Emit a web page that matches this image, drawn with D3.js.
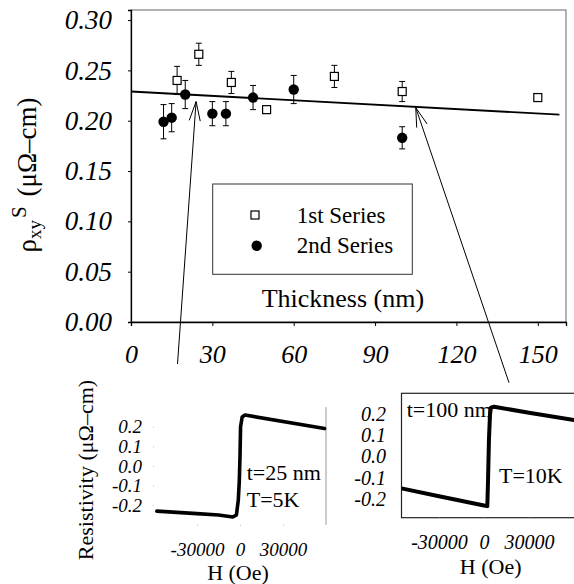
<!DOCTYPE html>
<html>
<head>
<meta charset="utf-8">
<script src="https://d3js.org/d3.v7.min.js"></script>
<style>
  body { margin: 0; background: #fff; }
  text { font-family: "Liberation Serif", "DejaVu Serif", serif; fill: #000; }
</style>
</head>
<body>
<div id="chart"></div>
<script>
// main plot data: Hall resistivity vs film thickness
const thickness1 = [17, 25, 37, 50, 75, 100, 150];
const rho1 = [0.240, 0.266, 0.238, 0.211, 0.244, 0.229, 0.223];
const err1 = [0.014, 0.011, 0.011, 0, 0.011, 0.010, 0];

const thickness2 = [12, 15, 20, 30, 35, 45, 60, 100];
const rho2 = [0.199, 0.203, 0.226, 0.207, 0.207, 0.223, 0.231, 0.183];
const err2 = [0.017, 0.014, 0.014, 0.012, 0.012, 0.012, 0.014, 0.011];

// linear fit line end points
const fitThickness = [0, 158];
const fitRho = [0.229, 0.206];

const mainYTicks = [0, 0.05, 0.10, 0.15, 0.20, 0.25, 0.30];
const mainXTicks = [0, 30, 60, 90, 120, 150];

// inset curves: resistivity vs field
const fieldA = [-58000, -30000, -15000, -5000, -2500, -1200, -500, 0, 400, 1500, 3500, 59000];
const rhoA = [-0.230, -0.243, -0.250, -0.260, -0.250, -0.175, -0.080, 0.050, 0.200, 0.250, 0.260, 0.191];

const fieldB = [-55000, -30000, 0, 2200, 2700, 3300, 4000, 4600, 6700, 30000, 60000];
const rhoB = [-0.151, -0.188, -0.232, -0.235, -0.110, 0.080, 0.200, 0.232, 0.236, 0.208, 0.173];

const insetYTicks = [-0.2, -0.1, 0, 0.1, 0.2];
const insetXTicks = [-30000, 0, 30000];

const width = 574;
const height = 584;
const serif = "'Liberation Serif', 'DejaVu Serif', serif";

const svg = d3.select("#chart")
  .append("svg")
  .attr("width", width)
  .attr("height", height);

/*
  Main plot
*/
const xMain = d3.scaleLinear().domain([0, 160.4]).range([131, 566]);
const yMain = d3.scaleLinear().domain([0, 0.31]).range([322, 10]);

// frame (top and right)
svg.append("rect")
  .attr("x", xMain(0)).attr("y", yMain(0.31))
  .attr("width", xMain(160.4) - xMain(0))
  .attr("height", yMain(0) - yMain(0.31))
  .attr("fill", "none").attr("stroke", "#666").attr("stroke-width", 1);

const yAxisMain = svg.append("g")
  .attr("transform", `translate(${xMain(0)},0)`)
  .call(d3.axisLeft(yMain).tickValues(mainYTicks).tickSize(3).tickPadding(16)
          .tickFormat(d => d.toFixed(2)));
yAxisMain.selectAll("text")
  .attr("font-size", "27px").attr("font-style", "italic").attr("font-family", serif);

const xAxisMain = svg.append("g")
  .attr("transform", `translate(0,${yMain(0)})`)
  .call(d3.axisBottom(xMain).tickValues(mainXTicks).tickSize(4).tickPadding(19)
          .tickFormat(d => String(d)));
xAxisMain.selectAll("text")
  .attr("font-size", "26px").attr("font-style", "italic").attr("font-family", serif);

[yAxisMain, xAxisMain].forEach(g => {
  g.select(".domain").attr("stroke", "#000").attr("stroke-width", 1.3);
  g.selectAll(".tick line").attr("stroke", "#000");
});

// fit line
svg.append("path")
  .datum(d3.zip(fitThickness, fitRho))
  .attr("d", d3.line().x(d => xMain(d[0])).y(d => yMain(d[1])))
  .attr("fill", "none").attr("stroke", "#000").attr("stroke-width", 1.8);

// error bars
function errorBars(xs, ys, es) {
  const g = svg.append("g").attr("stroke", "#000").attr("stroke-width", 1);
  xs.forEach((t, i) => {
    if (!es[i]) return;
    const x = xMain(t);
    const y0 = yMain(ys[i] - es[i]);
    const y1 = yMain(ys[i] + es[i]);
    g.append("line").attr("x1", x).attr("x2", x).attr("y1", y0).attr("y2", y1);
    g.append("line").attr("x1", x - 3).attr("x2", x + 3).attr("y1", y0).attr("y2", y0);
    g.append("line").attr("x1", x - 3).attr("x2", x + 3).attr("y1", y1).attr("y2", y1);
  });
}
errorBars(thickness1, rho1, err1);
errorBars(thickness2, rho2, err2);

// 1st series: open squares
svg.selectAll(".sq")
  .data(d3.zip(thickness1, rho1))
  .enter()
  .append("rect")
    .attr("class", "sq")
    .attr("x", d => xMain(d[0]) - 4)
    .attr("y", d => yMain(d[1]) - 4)
    .attr("width", 8).attr("height", 8)
    .attr("fill", "#fff").attr("stroke", "#000").attr("stroke-width", 1.2);

// 2nd series: filled circles
svg.selectAll(".dot")
  .data(d3.zip(thickness2, rho2))
  .enter()
  .append("circle")
    .attr("class", "dot")
    .attr("cx", d => xMain(d[0]))
    .attr("cy", d => yMain(d[1]))
    .attr("r", 5.2)
    .attr("fill", "#000");

// legend
svg.append("rect")
  .attr("x", 212.7).attr("y", 184).attr("width", 199.6).attr("height", 90.3)
  .attr("fill", "#fff").attr("stroke", "#333").attr("stroke-width", 1);
svg.append("rect")
  .attr("x", 251).attr("y", 211).attr("width", 8).attr("height", 8)
  .attr("fill", "#fff").attr("stroke", "#000").attr("stroke-width", 1.2);
svg.append("circle").attr("cx", 256.7).attr("cy", 245.7).attr("r", 5.2).attr("fill", "#000");
svg.append("text").attr("x", 296.7).attr("y", 223.3).attr("font-size", "23px").text("1st Series");
svg.append("text").attr("x", 296.7).attr("y", 253.3).attr("font-size", "23px").text("2nd Series");

svg.append("text").attr("x", 261.7).attr("y", 306.7).attr("font-size", "26px").text("Thickness (nm)");

// y label with sub/superscripts
const yLab = svg.append("text")
  .attr("transform", "translate(36,175) rotate(-90)")
  .attr("text-anchor", "middle")
  .attr("font-size", "27px");
yLab.append("tspan").text("ρ");
yLab.append("tspan").attr("font-size", "19px").attr("dy", 5).text("xy");
yLab.append("tspan").attr("font-size", "21px").attr("dy", -15).attr("dx", 2).text("S");
yLab.append("tspan").attr("dy", 10).attr("dx", 3).text(" (μΩ–cm)");

// arrows from fit line to insets
function arrow(tipX, tipY, tailX, tailY) {
  svg.append("line")
    .attr("x1", tailX).attr("y1", tailY).attr("x2", tipX).attr("y2", tipY)
    .attr("stroke", "#000").attr("stroke-width", 1);
  const a = Math.atan2(tailY - tipY, tailX - tipX);
  [-0.28, 0.28].forEach(da => {
    svg.append("line")
      .attr("x1", tipX).attr("y1", tipY)
      .attr("x2", tipX + 20 * Math.cos(a + da))
      .attr("y2", tipY + 20 * Math.sin(a + da))
      .attr("stroke", "#000").attr("stroke-width", 1);
  });
}
arrow(xMain(24), yMain(0.219), 177.5, 364);
arrow(xMain(105), yMain(0.213), 509, 382.7);

/*
  Inset A: t=25 nm, T=5K
*/
const xA = d3.scaleLinear().domain([-60000, 60000]).range([154, 326]);
const yA = d3.scaleLinear().domain([-0.3, 0.3]).range([524.8, 407.2]);

svg.append("line")
  .attr("x1", xA(60000)).attr("x2", xA(60000))
  .attr("y1", yA(0.3)).attr("y2", yA(-0.3))
  .attr("stroke", "#999").attr("stroke-width", 1);

const yAxA = svg.append("g")
  .attr("transform", `translate(${xA(-60000)},0)`)
  .call(d3.axisLeft(yA).tickValues(insetYTicks).tickSize(1).tickPadding(11)
          .tickFormat(d => d.toFixed(1)));
const xAxA = svg.append("g")
  .attr("transform", `translate(0,${yA(-0.3)})`)
  .call(d3.axisBottom(xA).tickValues(insetXTicks).tickSize(1).tickPadding(17)
          .tickFormat(d => String(d)));
[yAxA, xAxA].forEach(g => {
  g.select(".domain").remove();
  g.selectAll(".tick line").attr("stroke", "#bbb");
  g.selectAll("text")
    .attr("font-size", "19px")
    .attr("font-style", "italic").attr("font-family", serif);
});

svg.append("path")
  .datum(d3.zip(fieldA, rhoA))
  .attr("d", d3.line().x(d => xA(d[0])).y(d => yA(d[1])))
  .attr("fill", "none").attr("stroke", "#000").attr("stroke-width", 3.6)
  .attr("stroke-linejoin", "round").attr("stroke-linecap", "round");

svg.append("text").attr("x", 246.7).attr("y", 480).attr("font-size", "22px").text("t=25 nm");
svg.append("text").attr("x", 246.7).attr("y", 506.7).attr("font-size", "22px").text("T=5K");
svg.append("text").attr("x", 238).attr("y", 579.5).attr("text-anchor", "middle")
  .attr("font-size", "22px").text("H (Oe)");
svg.append("text")
  .attr("transform", "translate(93,470) rotate(-90)")
  .attr("text-anchor", "middle")
  .attr("font-size", "22px")
  .text("Resistivity (μΩ–cm)");

/*
  Inset B: t=100 nm, T=10K
*/
const xB = d3.scaleLinear().domain([-55000, 65000]).range([401.5, 581.5]);
const yB = d3.scaleLinear().domain([-0.29, 0.30]).range([517.7, 393.3]);

svg.append("clipPath").attr("id", "clipB")
  .append("rect")
  .attr("x", xB(-55000)).attr("y", yB(0.30))
  .attr("width", xB(65000) - xB(-55000))
  .attr("height", yB(-0.29) - yB(0.30));

svg.append("rect")
  .attr("x", xB(-55000)).attr("y", yB(0.30))
  .attr("width", xB(65000) - xB(-55000))
  .attr("height", yB(-0.29) - yB(0.30))
  .attr("fill", "none").attr("stroke", "#222").attr("stroke-width", 1.2);

const yAxB = svg.append("g")
  .attr("transform", `translate(${xB(-55000)},0)`)
  .call(d3.axisLeft(yB).tickValues(insetYTicks).tickSize(0).tickPadding(15.5)
          .tickFormat(d => d.toFixed(1)));
const xAxB = svg.append("g")
  .attr("transform", `translate(0,${yB(-0.29)})`)
  .call(d3.axisBottom(xB).tickValues(insetXTicks).tickSize(1).tickPadding(16.5)
          .tickFormat(d => String(d)));
[yAxB, xAxB].forEach(g => {
  g.select(".domain").remove();
  g.selectAll(".tick line").attr("stroke", "#bbb");
  g.selectAll("text")
    .attr("font-size", "20px")
    .attr("font-style", "italic").attr("font-family", serif);
});

svg.append("path")
  .datum(d3.zip(fieldB, rhoB))
  .attr("clip-path", "url(#clipB)")
  .attr("d", d3.line().x(d => xB(d[0])).y(d => yB(d[1])))
  .attr("fill", "none").attr("stroke", "#000").attr("stroke-width", 4)
  .attr("stroke-linejoin", "round").attr("stroke-linecap", "round");

svg.append("text").attr("x", 406.7).attr("y", 417.3).attr("font-size", "22px").text("t=100 nm");
svg.append("text").attr("x", 499).attr("y", 483.3).attr("font-size", "22px").text("T=10K");
svg.append("text").attr("x", 490.7).attr("y", 574).attr("text-anchor", "middle")
  .attr("font-size", "22px").text("H (Oe)");
</script>
</body>
</html>
